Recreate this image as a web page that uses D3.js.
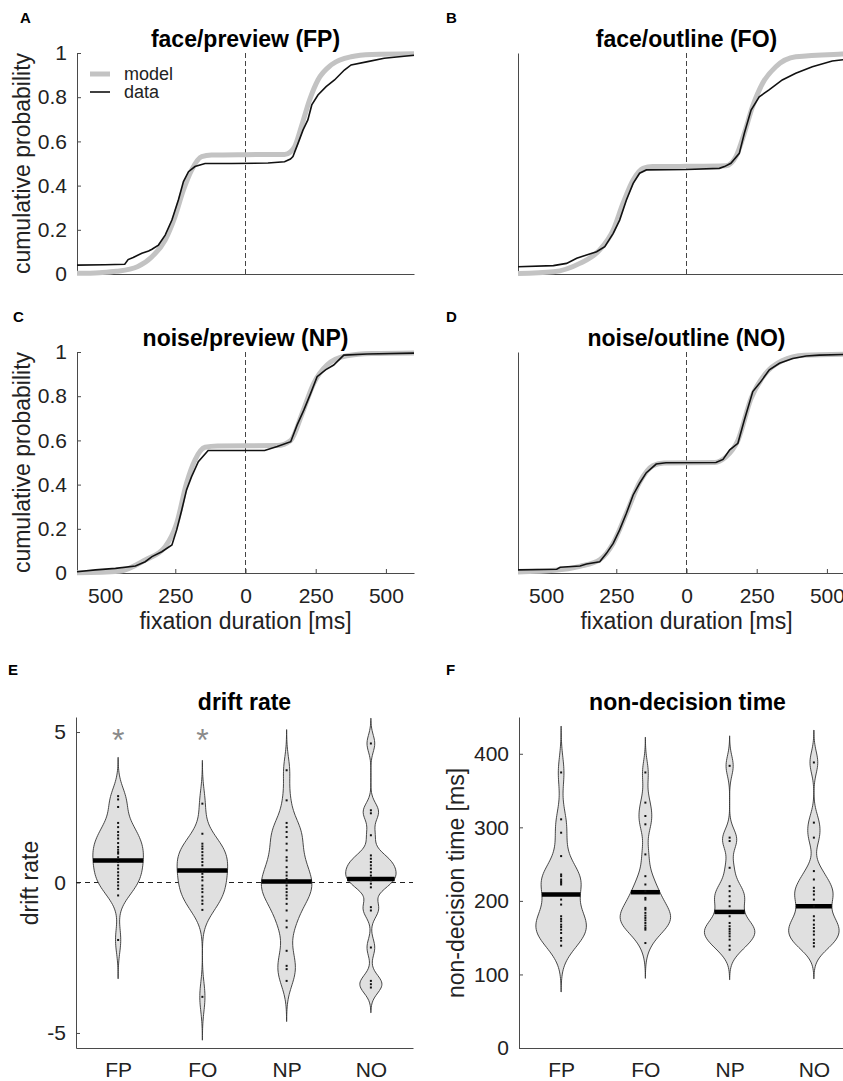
<!DOCTYPE html>
<html>
<head>
<meta charset="utf-8">
<script src="https://cdn.jsdelivr.net/npm/d3@7.9.0/dist/d3.min.js"></script>
<style>
  body { margin: 0; background: #fff; }
  svg { display: block; font-family: "Liberation Sans", Arial, Helvetica, sans-serif; }
  .axis path, .axis line { stroke: #4a4a4a; stroke-width: 1; }
  .axis text { fill: #222; font-size: 21px; font-family: "Liberation Sans", Arial, sans-serif; }
</style>
</head>
<body>
<script>
// ---------- data ----------
const durationTicks = [-500, -250, 0, 250, 500];
const probTicks = [0, 0.2, 0.4, 0.6, 0.8, 1];
const conditions = ["FP", "FO", "NP", "NO"];
const cdfTitles = ["face/preview (FP)", "face/outline (FO)", "noise/preview (NP)", "noise/outline (NO)"];

// cumulative distributions: [signed fixation duration (ms), cumulative probability]
const fpModel = [[-600,0.003],[-520,0.006],[-460,0.012],[-385,0.033],[-333,0.078],[-286,0.154],[-251,0.26],[-221,0.38],[-192,0.47],[-156,0.531],[-121,0.538],[0,0.54],[139,0.541],[160,0.552],[175,0.576],[199,0.667],[228,0.787],[258,0.878],[305,0.946],[376,0.983],[450,0.993],[600,0.997]];
const fpData = [[-600,0.04],[-500,0.042],[-430,0.044],[-418,0.065],[-400,0.075],[-369,0.094],[-345,0.104],[-333,0.112],[-310,0.131],[-286,0.176],[-262,0.244],[-239,0.335],[-221,0.418],[-203,0.463],[-180,0.486],[-144,0.5],[-50,0.5],[80,0.502],[139,0.508],[160,0.52],[169,0.531],[187,0.591],[205,0.652],[222,0.697],[236,0.765],[258,0.81],[287,0.848],[317,0.878],[352,0.923],[376,0.946],[435,0.961],[494,0.976],[600,0.99]];

const foModel = [[-600,0.002],[-474,0.01],[-380,0.048],[-309,0.109],[-261,0.199],[-226,0.32],[-190,0.425],[-155,0.478],[-120,0.486],[0,0.487],[141,0.49],[176,0.531],[206,0.637],[235,0.757],[271,0.863],[318,0.938],[389,0.983],[554,0.995],[600,0.997]];
const foData = [[-600,0.033],[-474,0.038],[-427,0.048],[-391,0.071],[-356,0.086],[-320,0.101],[-291,0.124],[-261,0.184],[-238,0.244],[-214,0.335],[-190,0.41],[-167,0.456],[-143,0.471],[0,0.473],[117,0.478],[135,0.486],[158,0.501],[188,0.546],[206,0.637],[230,0.742],[259,0.802],[294,0.833],[341,0.878],[389,0.908],[448,0.938],[519,0.964],[600,0.975]];

const npModel = [[-600,0.001],[-450,0.008],[-357,0.059],[-286,0.119],[-245,0.225],[-210,0.406],[-180,0.511],[-144,0.569],[-100,0.575],[113,0.577],[161,0.6],[202,0.723],[243,0.858],[290,0.941],[361,0.983],[450,0.993],[600,0.996]];
const npData = [[-600,0.006],[-534,0.014],[-463,0.021],[-392,0.032],[-357,0.051],[-333,0.074],[-298,0.096],[-262,0.127],[-245,0.195],[-227,0.285],[-210,0.376],[-192,0.436],[-168,0.504],[-133,0.554],[68,0.554],[113,0.572],[161,0.594],[184,0.67],[208,0.738],[232,0.813],[255,0.888],[285,0.919],[314,0.941],[350,0.986],[433,0.991],[600,0.995]];

const noModel = [[-600,0.005],[-470,0.012],[-380,0.03],[-309,0.06],[-261,0.135],[-214,0.27],[-167,0.41],[-120,0.485],[-80,0.498],[100,0.5],[140,0.525],[183,0.6],[230,0.79],[280,0.9],[340,0.96],[420,0.985],[600,0.99]];
const noData = [[-600,0.014],[-462,0.017],[-450,0.026],[-379,0.032],[-356,0.041],[-309,0.051],[-285,0.089],[-261,0.134],[-238,0.195],[-214,0.27],[-190,0.353],[-167,0.406],[-143,0.454],[-108,0.493],[-73,0.499],[105,0.5],[130,0.514],[154,0.557],[183,0.587],[206,0.692],[236,0.821],[260,0.858],[295,0.919],[331,0.949],[378,0.971],[426,0.982],[473,0.986],[600,0.99]];

// per-participant drift rates
const driftFP = [2.87,2.76,2.51,1.98,1.84,1.68,1.57,1.46,1.31,1.18,1.09,1.01,0.96,0.84,0.68,0.57,0.46,0.34,0.23,0.12,0.01,-0.1,-0.21,-0.43,-1.91];
const driftFO = [2.62,1.62,1.29,1.2,1.12,1.01,0.9,0.79,0.68,0.57,0.42,0.29,0.18,0.07,-0.1,-0.21,-0.32,-0.47,-0.6,-0.71,-0.91,-3.8];
const driftNP = [3.73,2.73,1.98,1.84,1.68,1.51,1.29,1.07,0.84,0.73,0.51,0.34,0.23,0.12,0.01,-0.1,-0.21,-0.32,-0.43,-0.54,-0.71,-0.93,-1.27,-1.49,-2.27,-2.77,-2.88,-3.27];
const driftNO = [4.62,2.4,2.3,1.57,0.9,0.79,0.68,0.57,0.46,0.34,0.23,0.14,0.07,-0.04,-0.16,-0.82,-0.93,-2.16,-3.27,-3.38,-3.49];
const driftMean = [0.73, 0.4, 0.03, 0.12];
const driftBandwidth = [0.43, 0.48, 0.45, 0.28];
const driftTicks = [-5, 0, 5];
const starred = ["FP", "FO"];

// per-participant non-decision times (ms)
const ndtFP = [374.6,310.9,292.7,260.9,235.9,233.6,229.1,226.8,224.5,222.3,201.8,195,179.1,175.5,172.3,167.7,164.6,160.9,156.4,149.6,145.9,139.1];
const ndtFO = [374.6,333.6,315.4,304.1,263.2,233.6,222.3,213.2,204.1,201.8,190.5,188.2,183.7,180,176.8,173.6,170,166.4,163.2,160.9,142.7];
const ndtNP = [383.6,286,281.4,245,220,213.2,206.3,199.5,192.7,179.1,170,165.5,161.8,158.6,155.5,151.8,147.3,139.1,133.6];
const ndtNO = [388.2,306.4,286,240.5,229.1,217.8,213.2,208.6,201.8,192.7,179.1,173.6,167.7,163.2,158.6,154.1,147.3,142.7,138.1];
const ndtMean = [208.6, 211.8, 185, 192.7];
const ndtBandwidth = [21, 16, 13.6, 14.7];
const ndtTicks = [0, 100, 200, 300, 400];

// ---------- layout ----------
const W = 843, H = 1081;
const plotW = 337;

let svg = d3.select("body").append("svg")
    .attr("width", W)
    .attr("height", H);

function panelLetter(letter, x, y) {
    svg.append("text")
        .attr("x", x).attr("y", y)
        .style("font-size", "15px")
        .style("font-weight", "bold")
        .text(letter);
}

function panelTitle(title, x, y) {
    svg.append("text")
        .attr("x", x).attr("y", y)
        .attr("text-anchor", "middle")
        .style("font-size", "23px")
        .style("font-weight", "bold")
        .text(title);
}

function yLabel(label, x, y) {
    svg.append("text")
        .attr("transform", `translate(${x},${y}) rotate(-90)`)
        .attr("text-anchor", "middle")
        .style("font-size", "23px")
        .style("fill", "#222")
        .text(label);
}

// one cumulative-probability panel
function drawCdf(opts) {
    let left = opts.left, top = opts.top, bottom = opts.top + 221;
    let x = d3.scaleLinear().domain([-600, 600]).range([left, left + plotW]);
    let y = d3.scaleLinear().domain([0, 1]).range([bottom, top]);

    let g = svg.append("g");

    // y axis
    let yAxis = d3.axisLeft(y).tickSizeOuter(0);
    if (opts.showY) {
        yAxis.tickValues(probTicks).tickFormat(d => String(d)).tickSizeInner(-4).tickPadding(10);
    } else {
        yAxis.tickValues([]);
    }
    g.append("g").attr("class", "axis")
        .attr("transform", `translate(${left},0)`)
        .call(yAxis);

    // x axis
    let xAxis = d3.axisBottom(x).tickSizeOuter(0);
    if (opts.showX) {
        xAxis.tickValues(durationTicks).tickFormat(d => String(Math.abs(d))).tickSizeInner(-4).tickPadding(15);
    } else {
        xAxis.tickValues([]);
    }
    g.append("g").attr("class", "axis")
        .attr("transform", `translate(0,${bottom})`)
        .call(xAxis);

    // dashed line at zero
    g.append("line")
        .attr("x1", x(0)).attr("x2", x(0))
        .attr("y1", y(0)).attr("y2", y(1))
        .attr("stroke", "#444")
        .attr("stroke-width", 1)
        .attr("stroke-dasharray", "5,3");

    let modelLine = d3.line().x(d => x(d[0])).y(d => y(d[1])).curve(d3.curveMonotoneX);
    let dataLine = d3.line().x(d => x(d[0])).y(d => y(d[1]));

    g.append("path")
        .attr("d", modelLine(opts.model))
        .attr("fill", "none")
        .attr("stroke", "#c3c3c3")
        .attr("stroke-width", 5);

    g.append("path")
        .attr("d", dataLine(opts.data))
        .attr("fill", "none")
        .attr("stroke", "#111")
        .attr("stroke-width", 1.6);

    panelTitle(opts.title, left + plotW / 2, top - 6);
    panelLetter(opts.letter, opts.letterX, opts.top - 30);

    if (opts.showY) yLabel("cumulative probability", 30, (top + bottom) / 2);
    if (opts.showX) {
        svg.append("text")
            .attr("x", x(0)).attr("y", bottom + 56)
            .attr("text-anchor", "middle")
            .style("font-size", "23px")
            .style("fill", "#222")
            .text("fixation duration [ms]");
    }

    if (opts.legend) {
        let lg = g.append("g");
        lg.append("line").attr("x1", 90).attr("x2", 110).attr("y1", 74).attr("y2", 74)
            .attr("stroke", "#c3c3c3").attr("stroke-width", 5);
        lg.append("line").attr("x1", 90).attr("x2", 110).attr("y1", 92).attr("y2", 92)
            .attr("stroke", "#111").attr("stroke-width", 1.6);
        lg.append("text").attr("x", 124).attr("y", 80).style("font-size", "18px").style("fill", "#222").text("model");
        lg.append("text").attr("x", 124).attr("y", 98).style("font-size", "18px").style("fill", "#222").text("data");
    }
}

drawCdf({ left: 77, top: 53, model: fpModel, data: fpData, title: cdfTitles[0], letter: "A", letterX: 20, showY: true, showX: false, legend: true });
drawCdf({ left: 518, top: 53, model: foModel, data: foData, title: cdfTitles[1], letter: "B", letterX: 446, showY: false, showX: false });
drawCdf({ left: 77, top: 352, model: npModel, data: npData, title: cdfTitles[2], letter: "C", letterX: 13, showY: true, showX: true });
drawCdf({ left: 518, top: 352, model: noModel, data: noData, title: cdfTitles[3], letter: "D", letterX: 446, showY: false, showX: true });

// gaussian kernel density evaluated over the data range plus three bandwidths
function kde(values, bw) {
    let lo = d3.min(values) - 3 * bw, hi = d3.max(values) + 3 * bw;
    let density = v => d3.mean(values, d => Math.exp(-0.5 * ((v - d) / bw) ** 2));
    let pts = d3.range(120).map(i => lo + (hi - lo) * i / 119);
    return { points: pts.map(v => [v, density(v)]), density: density };
}

// one violin panel
function drawViolins(opts) {
    let left = opts.left, top = 717, bottom = 1048;
    let x = d3.scalePoint().domain(conditions).range([left, left + plotW]).padding(0.5);
    let y = d3.scaleLinear().domain(opts.domain).range([bottom, top]);
    let halfW = x.step() * 0.3;

    let g = svg.append("g");

    g.append("g").attr("class", "axis")
        .attr("transform", `translate(${left},0)`)
        .call(d3.axisLeft(y).tickValues(opts.ticks).tickFormat(d => String(d))
            .tickSizeInner(-4).tickSizeOuter(0).tickPadding(10));

    g.append("g").attr("class", "axis")
        .attr("transform", `translate(0,${bottom})`)
        .call(d3.axisBottom(x).tickSize(0).tickPadding(14));

    if (opts.zeroLine) {
        g.append("line")
            .attr("x1", left).attr("x2", left + plotW)
            .attr("y1", y(0)).attr("y2", y(0))
            .attr("stroke", "#222")
            .attr("stroke-width", 1)
            .attr("stroke-dasharray", "5,4");
    }

    opts.groups.forEach((values, i) => {
        let cx = x(conditions[i]);
        let k = kde(values, opts.bandwidth[i]);
        let maxD = d3.max(k.points, d => d[1]);
        let w = d3.scaleLinear().domain([0, maxD]).range([0, halfW]);

        let area = d3.area()
            .y(d => y(d[0]))
            .x0(d => cx - w(d[1]))
            .x1(d => cx + w(d[1]))
            .curve(d3.curveBasis);

        g.append("path")
            .attr("d", area(k.points))
            .attr("fill", "#e0e0e0")
            .attr("stroke", "#333")
            .attr("stroke-width", 0.9);

        let mw = w(k.density(opts.means[i]));
        g.append("line")
            .attr("x1", cx - mw).attr("x2", cx + mw)
            .attr("y1", y(opts.means[i])).attr("y2", y(opts.means[i]))
            .attr("stroke", "#000")
            .attr("stroke-width", 4.5);

        g.selectAll(null)
            .data(values)
            .enter()
            .append("rect")
            .attr("x", cx - 1)
            .attr("y", d => y(d) - 1)
            .attr("width", 2)
            .attr("height", 2)
            .attr("fill", "#111");
    });

    if (opts.stars) {
        opts.stars.forEach(c => {
            g.append("text")
                .attr("x", x(c)).attr("y", y(5) + 19)
                .attr("text-anchor", "middle")
                .style("font-size", "32px")
                .style("fill", "#8a8a8a")
                .text("*");
        });
    }

    panelTitle(opts.title, left + plotW / 2, 710);
    panelLetter(opts.letter, opts.letterX, 675);
    yLabel(opts.yLabel, opts.yLabelX, 883);
}

drawViolins({
    left: 76, domain: [-5.5, 5.5], ticks: driftTicks,
    groups: [driftFP, driftFO, driftNP, driftNO], means: driftMean, bandwidth: driftBandwidth,
    zeroLine: true, stars: starred, title: "drift rate", letter: "E", letterX: 8,
    yLabel: "drift rate", yLabelX: 38
});

drawViolins({
    left: 519, domain: [0, 450], ticks: ndtTicks,
    groups: [ndtFP, ndtFO, ndtNP, ndtNO], means: ndtMean, bandwidth: ndtBandwidth,
    zeroLine: false, title: "non-decision time", letter: "F", letterX: 446,
    yLabel: "non-decision time [ms]", yLabelX: 464
});
</script>
</body>
</html>
